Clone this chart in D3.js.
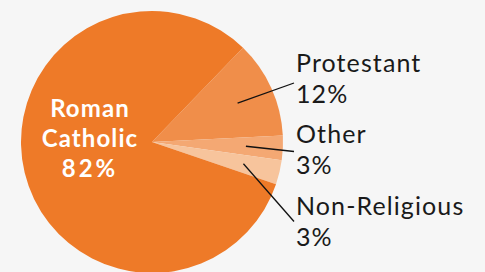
<!DOCTYPE html>
<html>
<head>
<meta charset="utf-8">
<script src="https://cdn.jsdelivr.net/npm/d3@7"></script>
<style>
  html, body { margin: 0; padding: 0; background: #f6f6f6; }
  svg { display: block; font-family: Lato, "Open Sans", sans-serif; }
</style>
</head>
<body>
<svg id="chart" width="485" height="272"></svg>
<script>
// Religion shares (percent)
const categories = ["Protestant", "Other", "Non-Religious", "Roman Catholic"];
const shares = [12, 3, 3, 82];
const colors = ["#f08e4a", "#f4a873", "#f7c49c", "#ee7a28"];

const svg = d3.select("#chart");
const cx = 152, cy = 142, radius = 131;

const g = svg.append("g")
    .attr("transform", `translate(${cx},${cy})`);

const data = categories.map((c, i) => ({ name: c, value: shares[i], color: colors[i] }));

// Start Protestant just right of 12 o'clock, going clockwise
const pie = d3.pie()
    .sort(null)
    .value(d => d.value)
    .startAngle(44 * Math.PI / 180)
    .endAngle(44 * Math.PI / 180 + 2 * Math.PI);

const arcs = pie(data);

const arc = d3.arc().innerRadius(0).outerRadius(radius);
const inner = d3.arc().innerRadius(94).outerRadius(94);

g.selectAll("path.slice")
    .data(arcs)
    .enter()
    .append("path")
    .attr("class", "slice")
    .attr("d", arc)
    .attr("fill", d => d.data.color);

// Labels for the small slices on the right
const labelX = 296;
const labelY = { "Protestant": 72, "Other": 143, "Non-Religious": 215 };
const lineEndY = { "Protestant": 83, "Other": 151.5, "Non-Religious": 221.5 };

const small = arcs.filter(d => d.data.name !== "Roman Catholic");

small.forEach(d => {
    const [sx, sy] = inner.centroid(d);
    svg.append("line")
        .attr("x1", cx + sx)
        .attr("y1", cy + sy)
        .attr("x2", labelX - 2)
        .attr("y2", lineEndY[d.data.name])
        .attr("stroke", "#111")
        .attr("stroke-width", 1.3);

    const t = svg.append("text")
        .attr("x", labelX)
        .attr("y", labelY[d.data.name])
        .attr("fill", "#1a1a1a")
        .style("font-size", "25px")
        .style("letter-spacing", "1.1px");
    t.append("tspan").attr("x", labelX).text(d.data.name);
    t.append("tspan").attr("x", labelX).attr("dy", 31).text(d.data.value + "%");
});

// Roman Catholic label inside the big slice
const rc = arcs.find(d => d.data.name === "Roman Catholic");
const rcText = svg.append("text")
    .attr("text-anchor", "middle")
    .attr("fill", "#fff")
    .style("font-size", "24px")
    .style("font-weight", "bold")
    .style("letter-spacing", "1.1px");
["Roman", "Catholic", rc.data.value + "%"].forEach((s, i) => {
    rcText.append("tspan")
        .attr("x", 90)
        .attr("y", 117 + i * 30)
        .style("letter-spacing", i === 2 ? "3px" : null)
        .text(s);
});
</script>
</body>
</html>
